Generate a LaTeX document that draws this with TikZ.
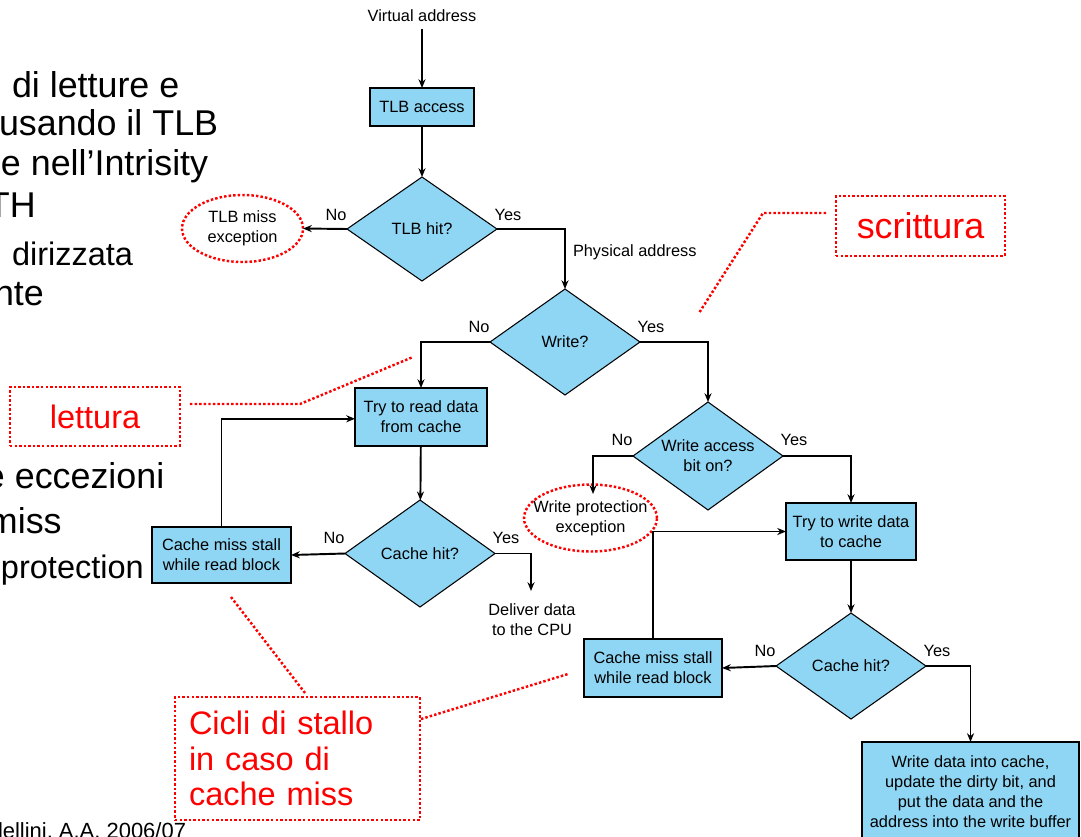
\documentclass[tikz,border=0pt]{standalone}
\usepackage{fontspec}
\setmainfont{Liberation Sans}
\usetikzlibrary{shapes.geometric,arrows.meta,calc}
\definecolor{boxblue}{RGB}{143,214,244}
\definecolor{notered}{RGB}{255,0,0}

\begin{document}
\begin{tikzpicture}[x=0.02cm,y=-0.02cm,
  every node/.style={inner sep=0pt, outer sep=0pt},
  lbl/.style={font=\fontsize{9.3}{11.4}\selectfont, align=center},
  procbox/.style={lbl, draw, line width=1.3pt, fill=boxblue},
  decision/.style={lbl, diamond, aspect=1.45, draw, line width=0.6pt, fill=boxblue,
    minimum width=3cm, minimum height=2.1cm},
  flow/.style={line width=1.1pt, -{Stealth[length=5pt,width=4pt]}},
  dotline/.style={draw=notered, line width=1.4pt, dash pattern=on 1.4pt off 1.2pt},
  exc/.style={lbl, ellipse, dotline},
  redbox/.style={dotline, text=notered},
  bigtext/.style={anchor=base west, font=\fontsize{20.4}{24}\selectfont},
  midtext/.style={anchor=base west, font=\fontsize{18.5}{22}\selectfont},
]
\useasboundingbox (0,0) rectangle (1081,836);

% slide text running behind the flowchart
\node[bigtext] at (12,97) {di letture e};
\node[bigtext] at (-1,135) {usando il TLB};
\node[bigtext] at (1,175) {e nell’Intrisity};
\node[bigtext] at (-12,217) {TH};
\node[midtext] at (12,265) {dirizzata};
\node[bigtext] at (-6,305) {nte};
\node[bigtext] at (-15,488) {e eccezioni};
\node[bigtext] at (-12,533) {miss};
\node[midtext] at (1,578) {protection};
\node[anchor=base west, font=\fontsize{12.5}{15}\selectfont] at (-2,838) {lellini, A.A. 2006/07};

% flowchart nodes
\node[lbl] (va) at (422,16) {Virtual address};
\node[procbox, minimum width=2.08cm, minimum height=0.76cm] (tlb) at (422,107) {TLB access};
\node[decision, minimum height=2.08cm] (tlbhit) at (422,229) {TLB hit?};
\node[exc, minimum width=2.42cm, minimum height=1.34cm] (tlbmiss) at (242.5,228.5) {TLB miss\\exception};
\node[decision, minimum height=2.12cm] (write) at (565,342) {Write?};
\node[procbox, minimum width=2.64cm, minimum height=1.16cm] (rd) at (421,417) {Try to read data\\from cache};
\node[decision, minimum height=2.14cm] (chitL) at (420,553.5) {Cache hit?};
\node[procbox, minimum width=2.78cm, minimum height=1.12cm] (stallL) at (221.5,555) {Cache miss stall\\while read block};
\node[lbl] (deliver) at (532,620) {Deliver data\\to the CPU};
\coordinate (cpu) at (531,591);
\node[decision, minimum height=2.16cm] (wab) at (708,456) {Write access\\bit on?};
\node[exc, inner xsep=-7pt, minimum width=2.66cm, minimum height=1.34cm] (wpe) at (590.5,518) {Write protection\\exception};
\coordinate (wpetop) at (593,494);
\node[procbox, minimum width=2.6cm, minimum height=1.14cm] (wr) at (851,531.5) {Try to write data\\to cache};
\node[decision, minimum height=2.12cm] (chitR) at (851,666) {Cache hit?};
\node[procbox, minimum width=2.76cm, minimum height=1.16cm] (stallR) at (653,668) {Cache miss stall\\while read block};
\node[procbox, minimum width=4.34cm, minimum height=2cm, anchor=north] (wbuf) at (970.5,742)
  {Write data into cache,\\update the dirty bit, and\\put the data and the\\address into the write buffer};

% branch labels
\node[lbl] at (336,215) {No};
\node[lbl] at (508,215) {Yes};
\node[lbl, anchor=west] at (573,252) {Physical address};
\node[lbl] at (479,327) {No};
\node[lbl] at (651,327) {Yes};
\node[lbl] at (334,538) {No};
\node[lbl] at (506,538) {Yes};
\node[lbl] at (622,440) {No};
\node[lbl] at (794,440) {Yes};
\node[lbl] at (765,651) {No};
\node[lbl] at (937,651) {Yes};

% connectors
\draw[flow, shorten <=4pt] (va) -- (tlb);
\draw[flow] (tlb) -- (tlbhit);
\draw[flow] (tlbhit.west) -- (tlbmiss.east);
\draw[flow] (tlbhit.east) -| (write.north);
\draw[flow] (write.west) -| (rd.north);
\draw[flow] (write.east) -| (wab.north);
\draw[flow] (rd) -- (chitL);
\draw[flow] (chitL.west) -- (stallL.east);
\draw[flow] (stallL.north) |- ([yshift=-1pt]rd.west);
\draw[flow] (chitL.east) -| (cpu);
\draw[flow] (wab.west) -| (wpetop);
\draw[flow] (wab.east) -| (wr.north);
\draw[flow] (wr) -- (chitR);
\draw[flow] (chitR.west) -- (stallR.east);
\draw[flow] (stallR.north) |- (wr.west);
\draw[flow] (chitR.east) -| (wbuf.north);

% red annotations
\node[redbox, minimum width=3.38cm, minimum height=1.2cm, font=\fontsize{20.4}{24}\selectfont] (scr) at (920.5,226) {scrittura};
\node[redbox, minimum width=3.4cm, minimum height=1.18cm, font=\fontsize{18.5}{22}\selectfont] (let) at (95,416.5) {lettura};
\node[redbox, minimum width=4.9cm, minimum height=2.46cm, font=\fontsize{18.5}{20.4}\selectfont,
  align=left, text width=4.34cm] (cic) at (297.5,758.5) {Cicli di stallo\\in caso di\\cache miss};

\draw[dotline] ($(scr.west)+(-10,-13)$) -- (763,213) -- (699,313);
\draw[dotline] ($(let.east)+(10,-12.5)$) -- (300,404) -- (413,357);
\draw[dotline] ($(cic.north west)+(130,-4)$) -- (231,597);
\draw[dotline] ($(cic.north east)+(1,22)$) -- (568,674);
\end{tikzpicture}
\end{document}
